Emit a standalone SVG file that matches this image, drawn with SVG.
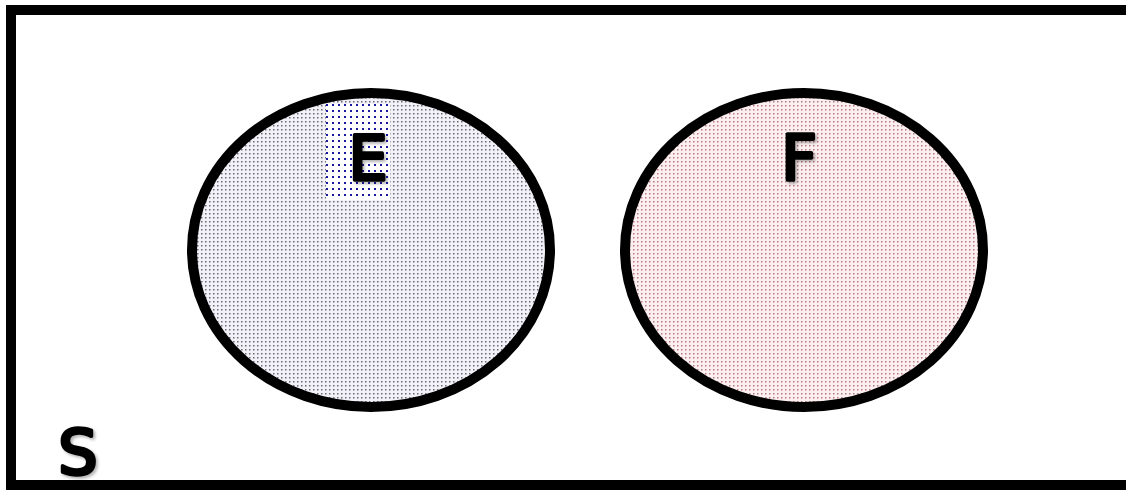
<svg xmlns="http://www.w3.org/2000/svg" width="1126" height="492" viewBox="0 0 1126 492">
<defs>
<pattern id="dotE" width="4" height="4" patternUnits="userSpaceOnUse">
<rect width="4" height="4" fill="#f2f1f6"/>
<rect x="1" y="1" width="1.5" height="1.5" fill="#6a6680"/>
</pattern>
<pattern id="dotF" width="4" height="4" patternUnits="userSpaceOnUse">
<rect width="4" height="4" fill="#fcefef"/>
<rect x="1" y="1" width="1.5" height="1.5" fill="#b07a86"/>
</pattern>
<pattern id="dotB" width="6" height="6" patternUnits="userSpaceOnUse">
<rect width="6" height="6" fill="#ffffff"/>
<rect x="2" y="2" width="2" height="2" fill="#1a1aa0"/>
</pattern>
<filter id="sh" x="-20%" y="-20%" width="150%" height="150%">
<feDropShadow dx="2" dy="2" stdDeviation="1.5" flood-color="#000" flood-opacity="0.3"/>
</filter>
</defs>
<style>
.set{stroke:#000;stroke-width:10}
.lbl{font-family:"DejaVu Sans",sans-serif;font-weight:normal;font-size:62px;fill:#000;stroke:#000;stroke-width:3.5;stroke-linejoin:round;stroke-linecap:round;text-anchor:middle}
</style>
<rect width="1126" height="492" fill="#fff"/>
<g id="S">
<rect x="11" y="10" width="1125" height="475" fill="none" stroke="#000" stroke-width="10"/>
<text class="lbl" x="78" y="474" font-size="64" filter="url(#sh)">S</text>
</g>
<g id="E">
<ellipse class="set" cx="371" cy="250" rx="179" ry="157" fill="url(#dotE)"/>
<rect x="326" y="104" width="64" height="96" fill="url(#dotB)"/>
<text class="lbl" x="368" y="180" filter="url(#sh)">E</text>
</g>
<g id="F">
<ellipse class="set" cx="804" cy="250" rx="179" ry="157" fill="url(#dotF)"/>
<text class="lbl" x="799" y="180" filter="url(#sh)">F</text>
</g>
<g id="connectors"/>
</svg>
